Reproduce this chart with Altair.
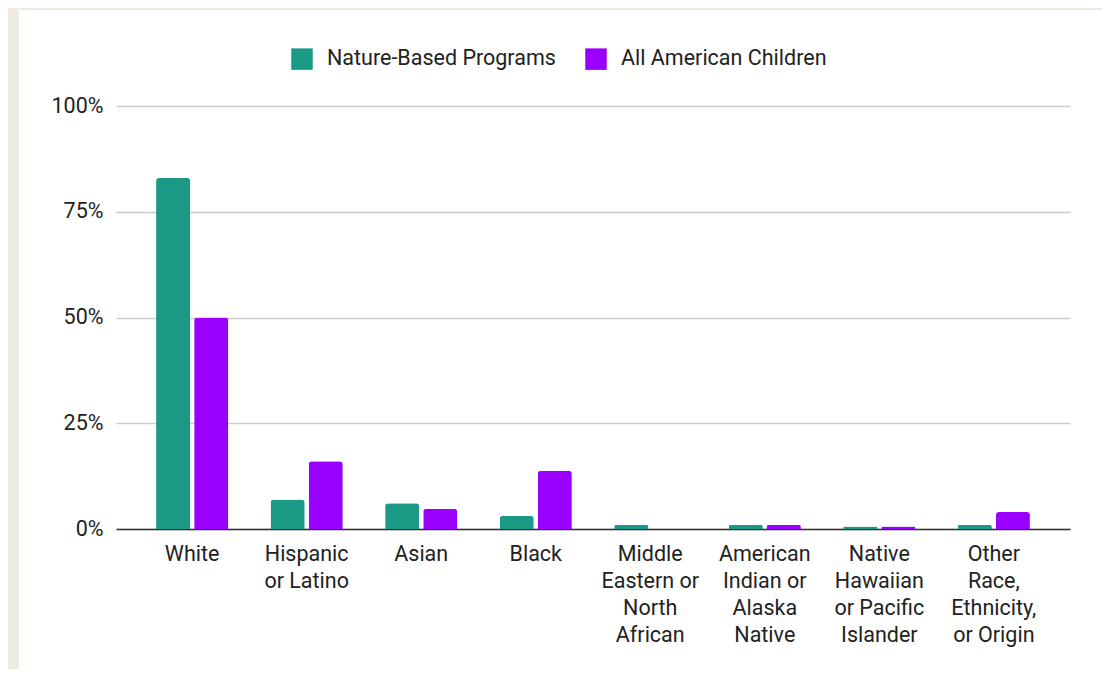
import altair as alt
import pandas as pd

categories = [
    "White",
    "Hispanic\nor Latino",
    "Asian",
    "Black",
    "Middle\nEastern or\nNorth\nAfrican",
    "American\nIndian or\nAlaska\nNative",
    "Native\nHawaiian\nor Pacific\nIslander",
    "Other\nRace,\nEthnicity,\nor Origin",
]
series_names = ["Nature-Based Programs", "All American Children"]
nature_based = [83, 7, 6.1, 3.1, 1.0, 1.0, 0.6, 1.0]
all_children = [50, 16, 4.8, 13.8, 0, 1.0, 0.6, 4.0]
y_ticks = [0, 25, 50, 75, 100]
colors = ["#1a9985", "#9900ff"]

rows = []
for c, a, b in zip(categories, nature_based, all_children):
    rows.append({"category": c, "series": series_names[0], "value": a})
    rows.append({"category": c, "series": series_names[1], "value": b})
df = pd.DataFrame(rows)

FONT = "Roboto"
FS = 21.5
W, H = 954, 423
BEIGE = "#efebe3"

one = pd.DataFrame({"k": [0]})
left_strip = alt.Chart(one).mark_rect(color=BEIGE, clip=False).encode(
    x=alt.value(-110), x2=alt.value(-97), y=alt.value(-100), y2=alt.value(570)
)
top_strip = alt.Chart(one).mark_rect(color=BEIGE, clip=False).encode(
    x=alt.value(-110), x2=alt.value(1000), y=alt.value(-100), y2=alt.value(-96)
)

bars = alt.Chart(df).mark_bar(cornerRadiusTopLeft=3, cornerRadiusTopRight=3).encode(
    x=alt.X(
        "category:N",
        sort=categories,
        scale=alt.Scale(paddingInner=0.37, paddingOuter=0.35),
        axis=alt.Axis(
            title=None,
            labelAngle=0,
            labelExpr="split(datum.value, '\\n')",
            labelFont=FONT,
            labelFontSize=FS,
            labelColor="#222222",
            labelLineHeight=27,
            labelPadding=14,
            labelBaseline="top",
            labelLimit=300,
            ticks=False,
            domainColor="#333333",
            domainWidth=1.5,
            grid=False,
        ),
    ),
    xOffset=alt.XOffset("series:N", sort=series_names, scale=alt.Scale(paddingInner=0.105)),
    y=alt.Y(
        "value:Q",
        scale=alt.Scale(domain=[0, 100]),
        axis=alt.Axis(
            title=None,
            values=y_ticks,
            labelExpr="datum.value + '%'",
            labelFont=FONT,
            labelFontSize=FS,
            labelColor="#222222",
            labelPadding=13,
            ticks=False,
            domain=False,
            gridColor="#cccccc",
            gridWidth=1.5,
        ),
    ),
    color=alt.Color(
        "series:N",
        sort=series_names,
        scale=alt.Scale(domain=series_names, range=colors),
        legend=alt.Legend(
            title=None,
            orient="none",
            legendX=175,
            legendY=-58,
            direction="horizontal",
            symbolType="square",
            symbolSize=462,
            symbolStrokeWidth=0,
            labelFont=FONT,
            labelFontSize=FS,
            labelColor="#222222",
            labelOffset=14,
            labelLimit=400,
            columnPadding=29,
        ),
    ),
)

chart = alt.layer(left_strip, top_strip, bars).properties(
    width=W,
    height=H,
    background="white",
    padding={"left": 108, "top": 98, "right": 32, "bottom": 140},
    autosize=alt.AutoSizeParams(type="none"),
).configure_view(stroke=None)

chart.save("out.html", embed_options={"renderer": "svg", "actions": False})
